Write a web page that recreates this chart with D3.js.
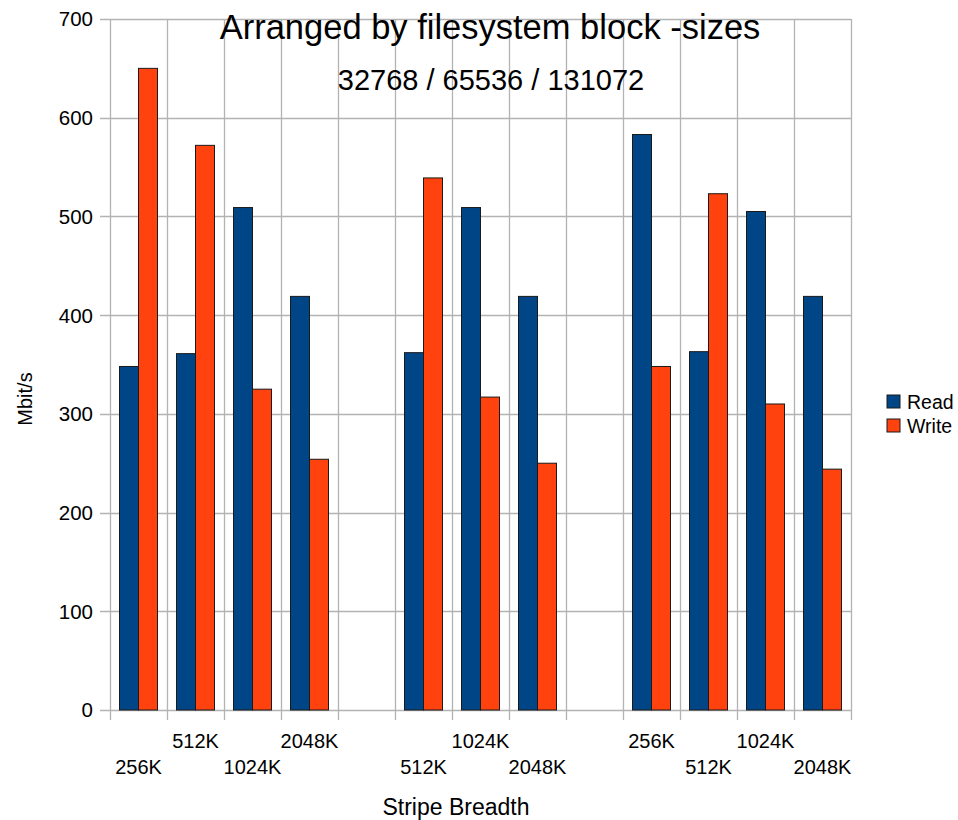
<!DOCTYPE html>
<html>
<head>
<meta charset="utf-8">
<script src="https://cdn.jsdelivr.net/npm/d3@7"></script>
<style>
  html, body { margin: 0; padding: 0; background: #fff; }
  svg { display: block; font-family: "Liberation Sans", Arial, sans-serif; }
</style>
</head>
<body>
<svg id="chart" width="958" height="820"></svg>
<script>
const categories = ["256K","512K","1024K","2048K","","512K","1024K","2048K","","256K","512K","1024K","2048K"];
const readValues  = [348, 361, 509, 419, null, 362, 509, 419, null, 583, 363, 505, 419];
const writeValues = [650, 572, 325, 254, null, 539, 317, 250, null, 348, 523, 310, 244];
const seriesNames = ["Read", "Write"];
const yTicks = [0, 100, 200, 300, 400, 500, 600, 700];
const titleText = "Arranged by filesystem block -sizes";
const subtitleText = "32768 / 65536 / 131072";
const xTitle = "Stripe Breadth";
const yTitle = "Mbit/s";

(function () {
const colors = { Read: "#004586", Write: "#ff420e" };
const gridColor = "#b3b3b3";

const svg = d3.select("#chart");
const pLeft = 110, pRight = 851, pTop = 19, pBottom = 710;

const idx = categories.map((d, i) => i);
const x = d3.scaleBand().domain(idx).range([pLeft, pRight]).padding(0);
const step = x.bandwidth();
const x1 = d3.scaleBand().domain(seriesNames).range([step / 6, step * 5 / 6]).padding(0);
const y = d3.scaleLinear().domain([0, 700]).range([pBottom, pTop]);

// horizontal gridlines
svg.append("g").selectAll("line").data(yTicks).join("line")
  .attr("x1", pLeft - 10).attr("x2", pRight)
  .attr("y1", d => Math.round(y(d)) + 0.5).attr("y2", d => Math.round(y(d)) + 0.5)
  .attr("stroke", gridColor).attr("stroke-width", 1.3);

// vertical gridlines at category boundaries
const bounds = idx.map(i => x(i)).concat([pRight]);
svg.append("g").selectAll("line").data(bounds).join("line")
  .attr("x1", d => Math.round(d) + 0.5).attr("x2", d => Math.round(d) + 0.5)
  .attr("y1", pTop).attr("y2", pBottom + 10)
  .attr("stroke", gridColor).attr("stroke-width", 1.3);

// y tick labels
svg.append("g").selectAll("text").data(yTicks).join("text")
  .attr("x", 93).attr("y", d => y(d))
  .attr("dy", "0.36em")
  .attr("text-anchor", "end")
  .attr("font-size", 20.5)
  .attr("fill", "#000")
  .text(d => d);

// bars
const rows = [];
idx.forEach(i => {
  const vals = { Read: readValues[i], Write: writeValues[i] };
  seriesNames.forEach(s => { if (vals[s] != null) rows.push({ i, s, v: vals[s] }); });
});
svg.append("g").selectAll("rect").data(rows).join("rect")
  .attr("x", d => x(d.i) + x1(d.s))
  .attr("y", d => y(d.v))
  .attr("width", x1.bandwidth())
  .attr("height", d => y(0) - y(d.v))
  .attr("fill", d => colors[d.s])
  .attr("stroke", "#1a1a1a").attr("stroke-width", 1);

// x tick labels, staggered among non-empty labels
let k = 0;
const labelRows = categories.map((c, i) => {
  if (!c) return null;
  const r = { i, c, lower: k % 2 === 0 };
  k++;
  return r;
}).filter(Boolean);
svg.append("g").selectAll("text").data(labelRows).join("text")
  .attr("x", d => x(d.i) + step / 2)
  .attr("y", d => d.lower ? 774 : 748)
  .attr("text-anchor", "middle")
  .attr("font-size", 20)
  .attr("fill", "#000")
  .text(d => d.c);

// titles
svg.append("text").attr("x", 490).attr("y", 39).attr("text-anchor", "middle")
  .attr("font-size", 34.5).attr("fill", "#000").text(titleText);
svg.append("text").attr("x", 491).attr("y", 90).attr("text-anchor", "middle")
  .attr("font-size", 29).attr("fill", "#000").text(subtitleText);

// axis titles
svg.append("text").attr("x", 456).attr("y", 815).attr("text-anchor", "middle")
  .attr("font-size", 23).attr("fill", "#000").text(xTitle);
svg.append("text").attr("transform", "translate(32,399) rotate(-90)")
  .attr("text-anchor", "middle").attr("font-size", 20).attr("fill", "#000").text(yTitle);

// legend
const lg = svg.append("g");
seriesNames.forEach((s, j) => {
  const yy = 395 + j * 24;
  lg.append("rect").attr("x", 887).attr("y", yy).attr("width", 13).attr("height", 13)
    .attr("fill", colors[s]).attr("stroke", "#1a1a1a").attr("stroke-width", 1);
  lg.append("text").attr("x", 907).attr("y", yy + 14).attr("font-size", 19.5)
    .attr("fill", "#000").text(s);
});
})();
</script>
</body>
</html>
